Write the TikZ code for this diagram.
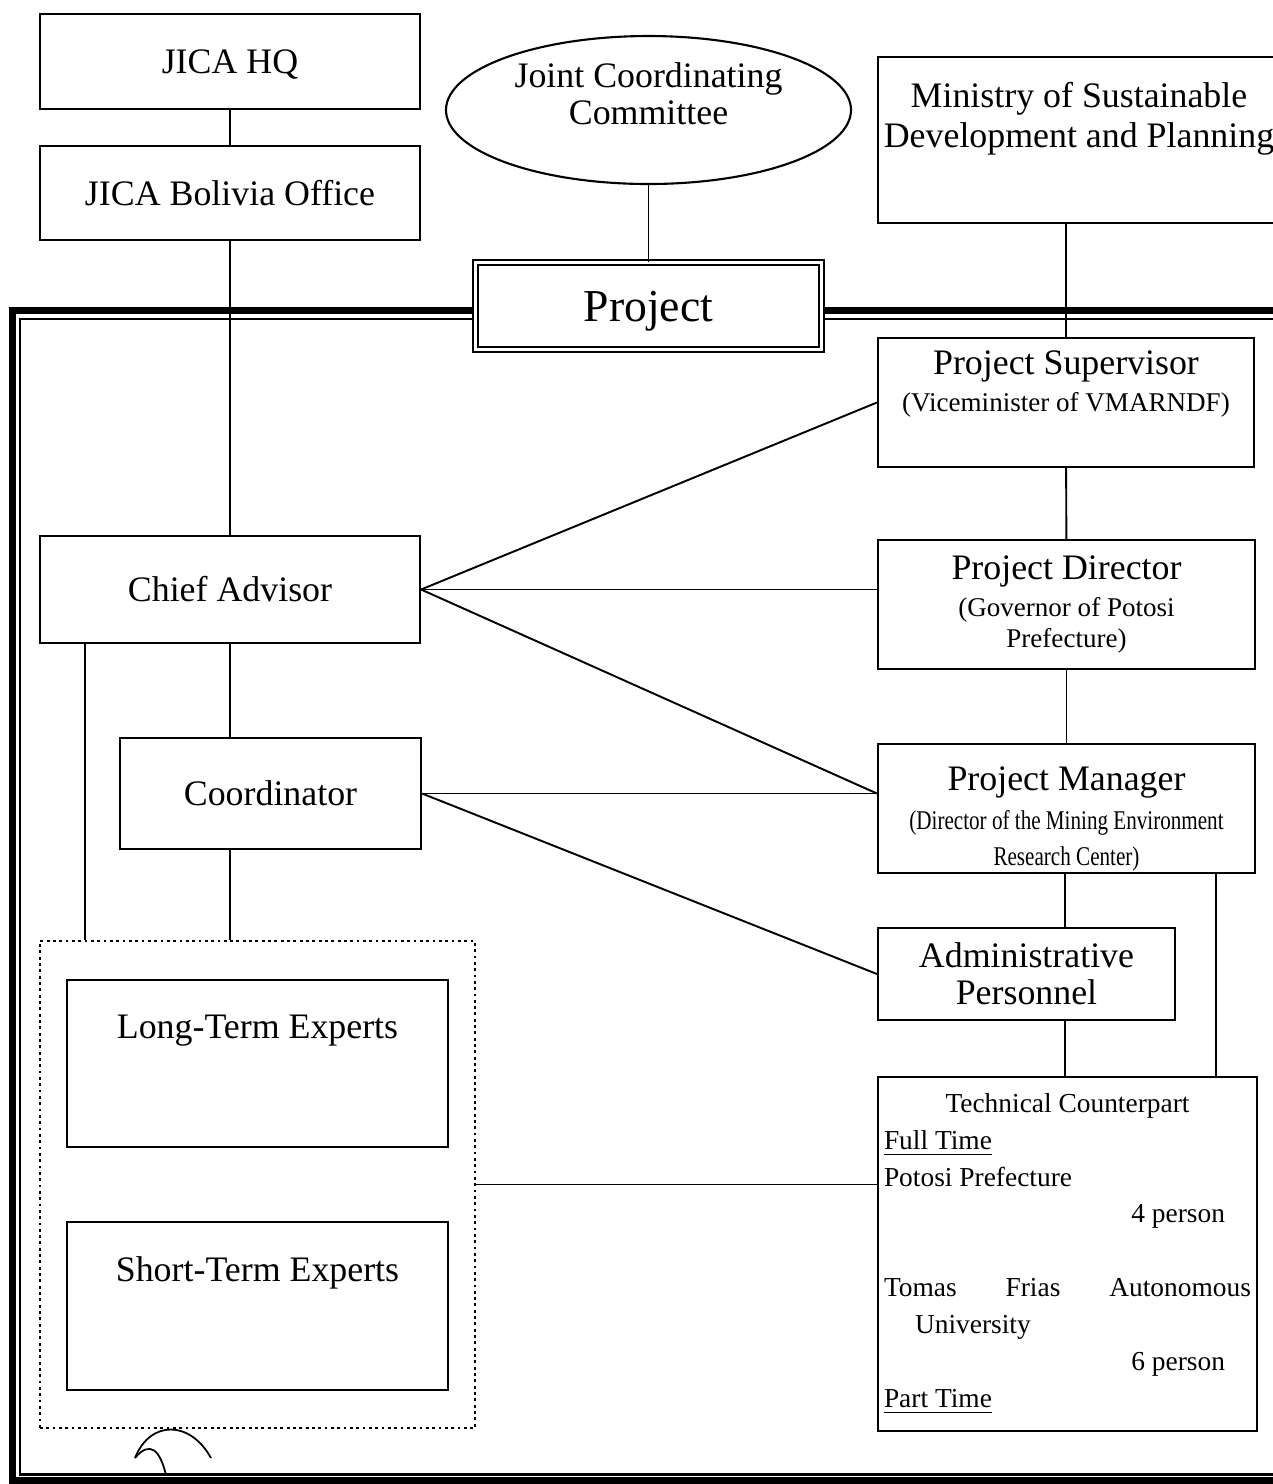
\documentclass[tikz,border=0pt]{standalone}
\usepackage{fontspec}
\usepackage{graphicx}
\setmainfont{Liberation Serif}
\usetikzlibrary{shapes.geometric}

\newcommand{\subtxt}{\fontsize{7.7}{10.5}\selectfont}
\newcommand{\techline}[2]{\makebox[36.7mm][#1]{#2}}

\begin{document}
\begin{tikzpicture}[x=0.1mm,y=-0.1mm,line width=0.6pt,font=\fontsize{10.2}{10.5}\selectfont]
    \tikzstyle{unit}=[rectangle,draw,inner sep=0pt,align=center];
    \tikzstyle{link}=[line width=0.55pt];
    \tikzstyle{frame}=[line width=2pt];
    \tikzstyle{innerframe}=[line width=0.6pt];
    \tikzstyle{group}=[densely dotted,line width=0.8pt];

    \useasboundingbox (0,0) rectangle (1273,1484);
    \clip (0,0) rectangle (1273,1484);

    % outer frame of the project
    \draw[frame] (12.5,310.5) rectangle (1300,1480.5);
    \draw[innerframe] (20,319) rectangle (1300,1474.5);

    % japanese side
    \node[unit,minimum width=38mm,minimum height=9.5mm,text depth=0pt] (hq) at (230,61.5) {JICA HQ};
    \node[unit,minimum width=38mm,minimum height=9.4mm] (office) at (230,193) {JICA Bolivia Office};
    \node[unit,minimum width=38mm,minimum height=10.7mm] (chief) at (230,589.5) {Chief Advisor};
    \node[unit,minimum width=30.1mm,minimum height=11.1mm] (coord) at (270.5,793.5) {Coordinator};
    \node[group,draw,minimum width=43.5mm,minimum height=48.7mm] (experts) at (257.5,1184.5) {};
    \node[unit,minimum width=38.1mm,minimum height=16.7mm,text depth=7.3mm] (longterm) at (257.5,1063.5) {Long-Term Experts};
    \node[unit,minimum width=38.1mm,minimum height=16.8mm,text depth=7.3mm] (shortterm) at (257.5,1306) {Short-Term Experts};

    % centre
    \node[ellipse,draw,minimum width=40.5mm,minimum height=14.8mm,inner sep=0pt,align=center,text depth=3.2mm] (jcc) at (648.5,110) {Joint Coordinating\\Committee};
    \node[unit,fill=white,double,double distance=0.35mm,line width=0.5pt,minimum width=34.6mm,minimum height=8.7mm,text depth=0pt,font=\fontsize{13}{15}\selectfont] (project) at (648.5,306) {Project};

    % bolivian side
    \node[unit,minimum width=40.2mm,minimum height=16.6mm,text depth=5mm] (ministry) at (1079,140) {Ministry of Sustainable\\[1pt]Development and Planning};
    \node[unit,minimum width=37.6mm,minimum height=12.9mm,text depth=4.2mm] (super) at (1066,402.5) {Project Supervisor\\\subtxt (Viceminister of VMARNDF)};
    \node[unit,minimum width=37.7mm,minimum height=12.9mm] (director) at (1066.5,604.5) {Project Director\\\subtxt (Governor of Potosi\\[-1.7pt]\subtxt Prefecture)};
    \node[unit,minimum width=37.7mm,minimum height=12.9mm] (manager) at (1066.5,808.5) {\rule{0pt}{4.5mm}Project Manager\\[0.5pt]\subtxt \scalebox{0.78}[1]{(Director of the Mining Environment}\\\subtxt \scalebox{0.78}[1]{Research Center)}};
    \node[unit,minimum width=29.7mm,minimum height=9.2mm] (admin) at (1026.5,974) {Administrative\\Personnel};
    \node[rectangle,draw,minimum width=37.9mm,minimum height=35.4mm,inner xsep=0.6mm,inner ysep=0pt,align=left,font=\fontsize{7.8}{10.5}\selectfont] (tech) at (1067.5,1254) {%
        \techline{c}{Technical Counterpart}\\
        \underline{Full Time}\\
        Potosi Prefecture\\
        \techline{r}{4 person\hspace*{2.6mm}}\\
        \mbox{}\\
        \techline{s}{Tomas Frias Autonomous}\\
        \techline{l}{\hspace*{3.1mm}University}\\
        \techline{r}{6 person\hspace*{2.6mm}}\\
        \underline{Part Time}};

    % connectors
    \draw[link] (hq) -- (office);
    \draw[link] (office) -- (chief);
    \draw[link] (jcc) -- (project);
    \draw[link] (super.north) -- (super.north |- ministry.south);
    \draw[link] (super) -- (director);
    \draw[link] (director) -- (manager);
    \draw[link] (manager.south -| 1065,0) -- (admin.north -| 1065,0);
    \draw[link] (admin.south -| 1065,0) -- (tech.north -| 1065,0);
    \draw[link] (manager.south -| 1216,0) -- (tech.north -| 1216,0);

    \coordinate (meet) at (coord.east -| manager.west);
    \draw[link] (chief.east) -- (super.west);
    \draw[link] (chief.east) -- (chief.east -| director.west);
    \draw[link] (chief.east) -- (meet);
    \draw[link] (coord.east) -- (meet);
    \draw[link] (coord.east) -- (admin.west);

    \draw[link] (chief.south) -- (chief.south |- coord.north);
    \draw[link] (coord.south -| chief.south) -- (experts.north -| chief.south);
    \draw[link] (chief.south -| 85,0) -- (experts.north -| 85,0);
    \draw[link] (experts.east) -- (experts.east -| tech.west);

    % pen mark at the bottom
    \draw[line width=0.5pt] (135,1458) .. controls (150,1420) and (190,1420) .. (211,1458);
    \draw[line width=0.5pt] (135,1458) .. controls (150,1440) and (160,1450) .. (166,1475);
\end{tikzpicture}
\end{document}
